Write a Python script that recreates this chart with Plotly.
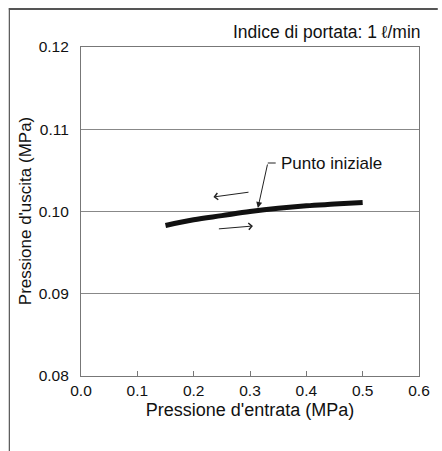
import plotly.graph_objects as go

# Data
inlet_pressure = [0.15, 0.20, 0.25, 0.30, 0.35, 0.40, 0.45, 0.50]
outlet_pressure = [0.0983, 0.0990, 0.0995, 0.1000, 0.1004, 0.1007, 0.1009, 0.1011]
x_ticks = [0.0, 0.1, 0.2, 0.3, 0.4, 0.5, 0.6]
y_ticks = [0.08, 0.09, 0.10, 0.11, 0.12]

FONT = "Liberation Sans, Arial, Helvetica, sans-serif"
W, H = 442, 451
L, R, T, B = 81, 19, 47, 75
PW, PH = W - L - R, H - T - B

fig = go.Figure()
fig.add_trace(go.Scatter(x=inlet_pressure, y=outlet_pressure, mode="lines",
                         line=dict(color="#111111", width=5, shape="spline"),
                         showlegend=False, hoverinfo="skip"))

def px2x(px):
    return (px - L) / PW * 0.6

def py2y(py):
    return 0.12 - (py - T) / PH * 0.04

def ppx(px):
    return (px - L) / PW

def ppy(py):
    return (H - B - py) / PH

annotations = []
# direction arrows
for (tx, ty, hx, hy) in [(252, 192, 215, 197), (219, 229, 255, 226)]:
    annotations.append(dict(x=px2x(hx), y=py2y(hy), ax=px2x(tx), ay=py2y(ty),
                            xref="x", yref="y", axref="x", ayref="y", text="",
                            showarrow=True, arrowhead=4, arrowsize=1.3, arrowwidth=1,
                            arrowcolor="#222222"))
# callout arrow
annotations.append(dict(x=px2x(260), y=py2y(208), ax=px2x(270), ay=py2y(163),
                        xref="x", yref="y", axref="x", ayref="y", text="",
                        showarrow=True, arrowhead=2, arrowsize=1.2, arrowwidth=1,
                        arrowcolor="#222222"))
annotations.append(dict(x=px2x(281), y=py2y(163), xref="x", yref="y",
                        text="Punto iniziale", showarrow=False, xanchor="left",
                        yanchor="middle", font=dict(family=FONT, size=17, color="#111111")))
annotations.append(dict(x=1.0, y=ppy(32), xref="paper", yref="paper",
                        text="Indice di portata: 1 ℓ/min", showarrow=False,
                        xanchor="right", yanchor="middle", xshift=4,
                        font=dict(family=FONT, size=17.5, color="#111111")))
# y-axis title
annotations.append(dict(x=ppx(25), y=0.5, xref="paper", yref="paper",
                        text="Pressione d'uscita (MPa)", showarrow=False, textangle=-90,
                        xanchor="center", yanchor="middle",
                        font=dict(family=FONT, size=17, color="#111111")))

shapes = [
    dict(type="line", xref="x", yref="y", x0=px2x(270), x1=px2x(278),
         y0=py2y(163), y1=py2y(163), line=dict(color="#222222", width=1)),
    # outer frame: top and left edges
    dict(type="line", xref="paper", yref="paper",
         x0=ppx(8), x1=ppx(W), y0=ppy(9), y1=ppy(9),
         line=dict(color="#555555", width=2), layer="above"),
    dict(type="line", xref="paper", yref="paper",
         x0=ppx(8.5), x1=ppx(8.5), y0=ppy(8), y1=ppy(H),
         line=dict(color="#555555", width=1.2), layer="above"),
]

fig.update_layout(
    width=W, height=H,
    margin=dict(l=L, r=R, t=T, b=B),
    paper_bgcolor="white", plot_bgcolor="white",
    font=dict(family=FONT, size=15.5, color="#111111"),
    annotations=annotations, shapes=shapes,
    xaxis=dict(range=[0, 0.6], tickvals=x_ticks,
               ticktext=[f"{v:.1f}" for v in x_ticks],
               showgrid=False, zeroline=False, showline=True, mirror=True,
               linecolor="#777777", linewidth=1.2, ticks="inside", ticklen=5,
               tickcolor="#777777", tickfont=dict(size=15.5),
               title=dict(text="Pressione d'entrata (MPa)", font=dict(size=18), standoff=5)),
    yaxis=dict(range=[0.08, 0.12], tickvals=y_ticks,
               ticktext=[f"{v:.2f}" for v in y_ticks],
               showgrid=True, gridcolor="#888888", gridwidth=1,
               zeroline=False, showline=True, mirror=True,
               linecolor="#777777", linewidth=1.2, ticks="", ticklabelstandoff=8,
               tickfont=dict(size=15.5)),
)

fig.write_html("out.html", config={"displayModeBar": False},
               post_script="document.body.style.margin='0';document.body.style.overflow='hidden';")
